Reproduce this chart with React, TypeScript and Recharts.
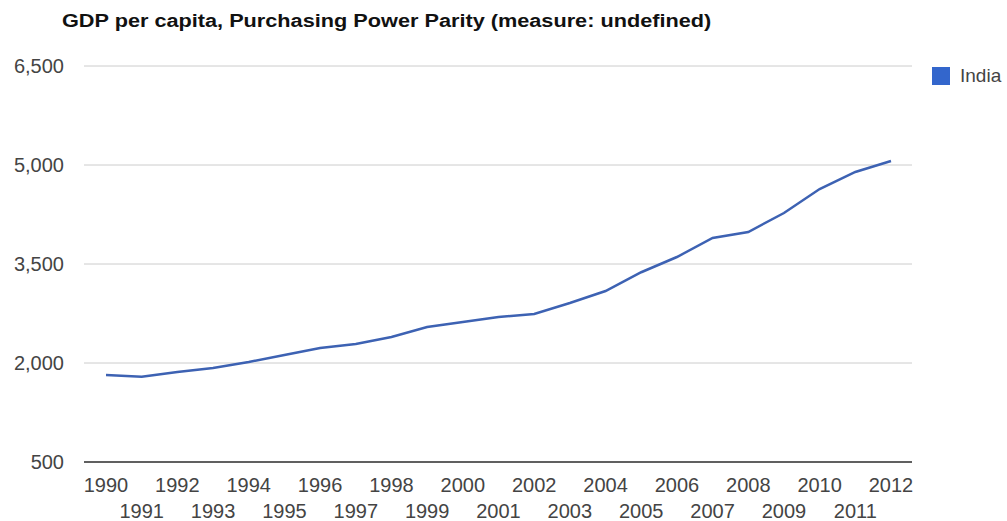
import React from "react";
import { LineChart, Line, XAxis, YAxis, CartesianGrid } from "recharts";

const years = [
  "1990", "1991", "1992", "1993", "1994", "1995", "1996", "1997", "1998", "1999", "2000",
  "2001", "2002", "2003", "2004", "2005", "2006", "2007", "2008", "2009", "2010", "2011", "2012",
];
const indiaGdp = [
  1818, 1790, 1862, 1924, 2015, 2121, 2227, 2288, 2394, 2545, 2621,
  2697, 2742, 2909, 3091, 3375, 3606, 3894, 3985, 4273, 4636, 4894, 5061,
];
const yTicks = [500, 2000, 3500, 5000, 6500];
const seriesName = "India";
const seriesColor = "#3366cc";
const lineColor = "#3d62b3";
const title = "GDP per capita, Purchasing Power Parity (measure: undefined)";

const data = years.map((year, i) => ({ year, india: indiaGdp[i] }));

const FONT = "'Liberation Sans', Arial, sans-serif";

// Year labels alternate between two rows so they don't collide.
const YearTick = (props: any) => {
  const { x, y, payload, index } = props;
  const row = index % 2 === 0 ? 0 : 1;
  return (
    <text
      x={x}
      y={y + 22 + row * 26}
      textAnchor="middle"
      fontFamily={FONT}
      fontSize={20}
      fill="#444"
    >
      {payload.value}
    </text>
  );
};

export default function App() {
  return (
    <div style={{ position: "absolute", left: 0, top: 0, width: 1007, height: 521, background: "#fff", overflow: "hidden" }}>
      <div
        style={{
          position: "absolute",
          left: 62,
          top: 11,
          fontFamily: FONT,
          fontWeight: "bold",
          fontSize: 18,
          lineHeight: "21px",
          color: "#111",
          whiteSpace: "nowrap",
          transform: "scaleX(1.205)",
          transformOrigin: "left top",
        }}
      >
        {title}
      </div>
      <div
        style={{
          position: "absolute",
          left: 932,
          top: 65,
          display: "flex",
          alignItems: "center",
          fontFamily: FONT,
        }}
      >
        <div style={{ width: 18, height: 18, background: seriesColor, marginRight: 10 }} />
        <span style={{ fontSize: 19, color: "#444" }}>{seriesName}</span>
      </div>
      <LineChart width={1007} height={521} data={data} margin={{ top: 66, right: 95, bottom: 0, left: 0 }}>
        <CartesianGrid horizontal vertical={false} stroke="#cccccc" />
        <XAxis
          dataKey="year"
          interval={0}
          height={59}
          padding={{ left: 22, right: 21 }}
          tickLine={false}
          axisLine={{ stroke: "#333", strokeWidth: 1.5 }}
          tick={<YearTick />}
        />
        <YAxis
          type="number"
          domain={[500, 6500]}
          ticks={yTicks}
          width={84}
          axisLine={false}
          tickLine={false}
          tickSize={0}
          tickMargin={20}
          tickFormatter={(v: number) => v.toLocaleString("en-US")}
          tick={{ fontFamily: FONT, fontSize: 20, fill: "#444" }}
        />
        <Line
          type="linear"
          dataKey="india"
          name={seriesName}
          stroke={lineColor}
          strokeWidth={2.5}
          dot={false}
          isAnimationActive={false}
        />
      </LineChart>
    </div>
  );
}
